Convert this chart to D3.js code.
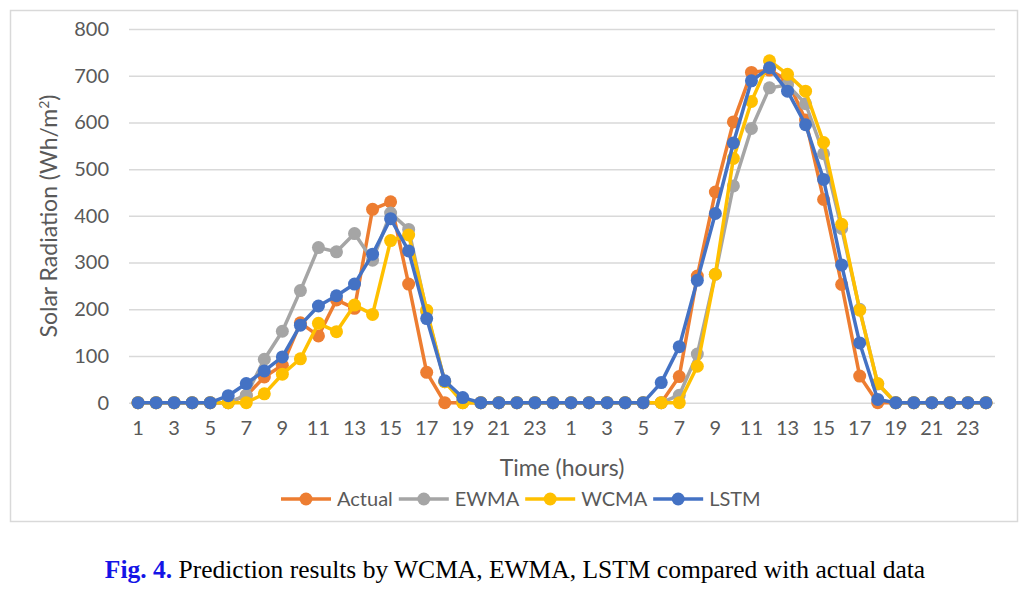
<!DOCTYPE html>
<html>
<head>
<meta charset="utf-8">
<script src="https://cdn.jsdelivr.net/npm/d3@7"></script>
<style>
  html, body { margin: 0; padding: 0; background: #fff; }
  svg { display: block; }
</style>
</head>
<body>
<svg id="chart" width="1034" height="593"></svg>
<script>
// ---- data ----
const hours = [1,2,3,4,5,6,7,8,9,10,11,12,13,14,15,16,17,18,19,20,21,22,23,24,
               1,2,3,4,5,6,7,8,9,10,11,12,13,14,15,16,17,18,19,20,21,22,23,24];
const actual = [0,0,0,0,0,0,15,55,80,171,143,220,202,414,430,254,65,0,0,0,0,0,0,0,
                0,0,0,0,0,0,56,271,451,601,707,712,690,605,435,253,57,0,0,0,0,0,0,0];
const ewma   = [0,0,0,0,0,0,16,93,153,240,332,323,362,305,406,371,195,45,3,0,0,0,0,0,
                0,0,0,0,0,0,16,104,275,464,587,674,680,640,533,373,200,40,0,0,0,0,0,0];
const wcma   = [0,0,0,0,0,0,0,19,61,94,170,152,209,189,347,359,198,45,0,0,0,0,0,0,
                0,0,0,0,0,0,0,78,275,523,645,732,703,667,557,382,198,41,0,0,0,0,0,0];
const lstm   = [0,0,0,0,0,15,41,68,98,166,207,229,254,318,394,325,180,47,11,0,0,0,0,0,
                0,0,0,0,0,43,120,262,405,556,689,717,667,595,478,295,128,7,0,0,0,0,0,0];
const yTicks = [0,100,200,300,400,500,600,700,800];
const seriesNames = ["Actual","EWMA","WCMA","LSTM"];
const seriesColors = ["#ED7D31","#A5A5A5","#FFC000","#4472C4"];

// ---- layout ----
const svg = d3.select("#chart");
const font = "Lato, 'Open Sans', sans-serif";
const txt = "#595959";
const plot = {left: 129, right: 995, top: 29, bottom: 402.7};

// chart frame
svg.append("rect").attr("x", 10.5).attr("y", 10.5).attr("width", 1007).attr("height", 511)
  .attr("fill", "#fff").attr("stroke", "#D9D9D9").attr("stroke-width", 1.5);

const idx = d3.range(hours.length);
const x = d3.scaleBand().domain(idx).range([plot.left, plot.right]);
const cx = i => x(i) + x.bandwidth() / 2;
const y = d3.scaleLinear().domain([0, 800]).range([plot.bottom, plot.top]);

// y axis + gridlines
const yAxis = d3.axisLeft(y).tickValues(yTicks).tickSize(-(plot.right - plot.left)).tickPadding(20);
const gy = svg.append("g").attr("transform", `translate(${plot.left},0)`).call(yAxis);
gy.select(".domain").remove();
gy.selectAll(".tick line").attr("stroke", "#D9D9D9").attr("stroke-width", 1.5);
gy.selectAll(".tick text").attr("fill", txt).style("font-family", font).style("font-size", "20px");

// x axis
const xAxis = d3.axisBottom(x).tickValues(idx.filter(i => i % 2 === 0))
  .tickFormat(i => hours[i]).tickSize(0).tickPadding(18);
const gx = svg.append("g").attr("transform", `translate(0,${plot.bottom})`).call(xAxis);
gx.select(".domain").remove();
gx.selectAll(".tick text").attr("fill", txt).style("font-family", font).style("font-size", "20px");

// series
const allSeries = [actual, ewma, wcma, lstm];
const line = d3.line().x((d, i) => cx(i)).y(d => y(d));
allSeries.forEach((vals, s) => {
  const g = svg.append("g");
  g.append("path").datum(vals).attr("d", line).attr("fill", "none")
    .attr("stroke", seriesColors[s]).attr("stroke-width", 3.5).attr("stroke-linejoin", "round");
  g.selectAll("circle").data(vals).enter().append("circle")
    .attr("cx", (d, i) => cx(i)).attr("cy", d => y(d)).attr("r", 6.5)
    .attr("fill", seriesColors[s]);
});

// axis titles
svg.append("text").attr("x", 562).attr("y", 476).attr("text-anchor", "middle")
  .attr("fill", txt).style("font-family", font).style("font-size", "23px").text("Time (hours)");
const yt = svg.append("text").attr("transform", "translate(57,216) rotate(-90)")
  .attr("text-anchor", "middle").attr("fill", txt).style("font-family", font).style("font-size", "23px");
yt.append("tspan").text("Solar Radiation (Wh/m");
yt.append("tspan").attr("baseline-shift", "super").style("font-size", "14px").text("2");
yt.append("tspan").text(")");

// legend
const leg = svg.append("g").attr("transform", "translate(0,499)");
let lx = 281;
seriesNames.forEach((name, s) => {
  const g = leg.append("g").attr("transform", `translate(${lx},0)`);
  g.append("line").attr("x1", 0).attr("x2", 50).attr("y1", 0).attr("y2", 0)
    .attr("stroke", seriesColors[s]).attr("stroke-width", 3.5);
  g.append("circle").attr("cx", 25).attr("cy", 0).attr("r", 6.5).attr("fill", seriesColors[s]);
  const t = g.append("text").attr("x", 56).attr("y", 7).attr("fill", txt)
    .style("font-family", font).style("font-size", "20px").text(name);
  lx += 56 + t.node().getComputedTextLength() + 6;
});

// caption
const cap = svg.append("text").attr("x", 515).attr("y", 578).attr("text-anchor", "middle")
  .style("font-family", "'Liberation Serif', 'Times New Roman', serif").style("font-size", "25.5px");
cap.append("tspan").attr("fill", "#1414E6").attr("font-weight", "bold").text("Fig. 4.");
cap.append("tspan").attr("fill", "#000").text(" Prediction results by WCMA, EWMA, LSTM compared with actual data");
</script>
</body>
</html>
